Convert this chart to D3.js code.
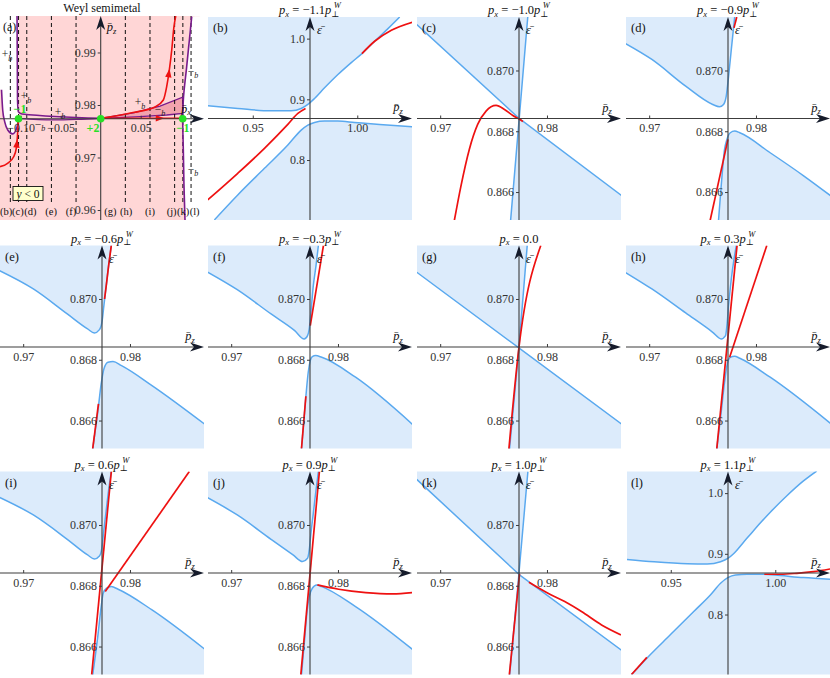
<!DOCTYPE html>
<html><head><meta charset="utf-8">
<script src="https://cdn.jsdelivr.net/npm/d3@7"></script>
<style>body{margin:0;background:#fff}svg{display:block}svg text{font-family:"Liberation Serif","DejaVu Serif","Noto Serif",serif !important}</style>
</head><body><svg id="c" width="830" height="678"></svg>
<script>
// ---------- data ----------
const pz0 = 0.97738, eps0 = 0.86842;
const pPerpW = 0.1027;
const panelIds = ["b","c","d","e","f","g","h","i","j","k","l"];
const pxValues = [-1.1,-1.0,-0.9,-0.6,-0.3,0.0,0.3,0.6,0.9,1.0,1.1];
const wideX = [0.92858, 1.02618], wideY = [0.7012, 1.0356];
const zoomX = [0.96783, 0.98693], zoomY = [0.86508, 0.87176];
const wideXTicks = [0.95, 1.00], wideYTicks = [0.8, 0.9, 1.0];
const zoomXTicks = [0.97, 0.98], zoomYTicks = [0.866, 0.868, 0.870];

const upperB = [[0.928435,0.889315],[0.942812,0.884932],[0.958786,0.881096],[0.968371,0.881096],[0.973163,0.884932],[0.976358,0.891507],[0.979553,0.901370],[0.984345,0.918904],[0.990735,0.940822],[0.997125,0.960548],[1.002236,0.975342],[1.008307,0.995616],[1.014696,1.016438],[1.020288,1.035616]];
const lowerB = [[0.931629,0.701370],[0.942812,0.742466],[0.955591,0.786301],[0.966773,0.824658],[0.973163,0.849315],[0.976358,0.857534],[0.979553,0.861918],[0.984345,0.864110],[0.990735,0.864110],[0.998722,0.861918],[1.010703,0.858630],[1.026677,0.854795]];
const redB1 = [[0.928435,0.734247],[0.942812,0.778082],[0.955591,0.819178],[0.966773,0.858630],[0.971565,0.876712],[0.975240,0.884932]];
const redB2 = [[1.002236,0.975342],[1.008307,0.995616],[1.016294,1.013699],[1.026677,1.027397]];

const upperC = [[0.96781,0.87151],[0.97740,0.86842],[0.97820,0.87176]];
const lowerC = [[0.97659,0.86505],[0.97740,0.86842],[0.98700,0.86588]];
const redC = [[0.971317,0.865047],[0.971944,0.866197],[0.972727,0.867403],[0.973511,0.868225],[0.974295,0.868663],[0.975235,0.868849],[0.976019,0.868718],[0.976803,0.868521],[0.977461,0.868389],[0.977743,0.868323]];

const upperD = [[0.967658,0.870910],[0.970253,0.870362],[0.973418,0.869485],[0.975949,0.868882],[0.976582,0.868805],[0.976962,0.868882],[0.977215,0.869156],[0.977437,0.869814],[0.977690,0.870690],[0.978006,0.871760]];
const lowerD = [[0.976487,0.865047],[0.976741,0.866197],[0.977057,0.867403],[0.977278,0.867732],[0.977595,0.867951],[0.978006,0.868005],[0.978481,0.867951],[0.981329,0.867293],[0.984494,0.866526],[0.987025,0.865868]];
const redD1 = [[0.975696,0.865047],[0.977373,0.867732]];
const redD2 = [[0.977943,0.871403],[0.978196,0.871760]];

const upperE = [[0.967778,0.870932],[0.970952,0.870329],[0.974127,0.869507],[0.976032,0.869014],[0.976667,0.868882],[0.977143,0.868992],[0.977397,0.869288],[0.977556,0.869781],[0.977778,0.870438],[0.978000,0.871096],[0.978254,0.871760]];
const lowerE = [[0.976508,0.865070],[0.976984,0.866274],[0.977302,0.867205],[0.977556,0.867699],[0.977937,0.867918],[0.978413,0.867940],[0.979206,0.867808],[0.982063,0.867151],[0.987079,0.865858]];
const redE1 = [[0.976508,0.865070],[0.977048,0.866548]];
const redE2 = [[0.977619,0.870000],[0.977778,0.870438],[0.978000,0.871096],[0.978254,0.871760]];

const upperF = [[0.967722,0.870899],[0.970570,0.870307],[0.973734,0.869507],[0.975949,0.868959],[0.976835,0.868685],[0.977152,0.868795],[0.977310,0.869014],[0.977468,0.869562],[0.977690,0.870438],[0.977943,0.871096],[0.978165,0.871760]];
const lowerF = [[0.976582,0.865070],[0.976994,0.866800],[0.977215,0.867589],[0.977405,0.867973],[0.977595,0.868104],[0.977911,0.868137],[0.978481,0.868082],[0.981646,0.867425],[0.987025,0.865858]];
const redF1 = [[0.976582,0.865070],[0.976994,0.866800]];
const redF2 = [[0.977405,0.869123],[0.978639,0.871760]];

const upperG = [[0.96781,0.87088],[0.97737,0.86839],[0.97815,0.87176]];
const lowerG = [[0.97649,0.86505],[0.97737,0.86839],[0.98700,0.86588]];
const redG = [[0.97643,0.86505],[0.97737,0.86839],[0.97942,0.87176]];

const upperH = [[0.967658,0.870899],[0.970253,0.870329],[0.973418,0.869540],[0.975949,0.868904],[0.976741,0.868685],[0.977152,0.868795],[0.977278,0.869123],[0.977437,0.869781],[0.977690,0.870658],[0.977943,0.871315],[0.978165,0.871760]];
const lowerH = [[0.976329,0.865070],[0.976741,0.866274],[0.977057,0.867260],[0.977278,0.867808],[0.977595,0.868082],[0.978006,0.868115],[0.978481,0.868049],[0.981329,0.867425],[0.987025,0.865890]];
const redH1 = [[0.976329,0.865070],[0.978228,0.871760]];
const redH2 = [[0.977532,0.868082],[0.981013,0.871760]];

const upperI = [[0.967778,0.870910],[0.970952,0.870329],[0.974127,0.869529],[0.976032,0.869014],[0.976667,0.868882],[0.977143,0.868981],[0.977365,0.869233],[0.977556,0.869836],[0.977778,0.870493],[0.978000,0.871151],[0.978254,0.871760]];
const lowerI = [[0.976508,0.865070],[0.976984,0.866329],[0.977302,0.867315],[0.977492,0.867753],[0.977778,0.867918],[0.978254,0.867973],[0.978889,0.867885],[0.982063,0.867205],[0.987079,0.865890]];
const redI1 = [[0.976413,0.865070],[0.978254,0.871760]];
const redI2 = [[0.977683,0.867808],[0.985556,0.871760]];

const upperJ = [[0.967722,0.870910],[0.970570,0.870329],[0.973734,0.869529],[0.975791,0.869014],[0.976677,0.868795],[0.977152,0.868904],[0.977310,0.869178],[0.977468,0.869726],[0.977690,0.870384],[0.977943,0.871151],[0.978165,0.871760]];
const lowerJ = [[0.976582,0.865070],[0.976899,0.866329],[0.977120,0.867205],[0.977310,0.867644],[0.977595,0.867918],[0.978006,0.868027],[0.978481,0.867973],[0.981646,0.867315],[0.987025,0.865890]];
const redJ1 = [[0.976519,0.865070],[0.978259,0.871760]];
const redJ2 = [[0.978070,0.868027],[0.980063,0.867885],[0.982595,0.867775],[0.985127,0.867732],[0.987025,0.867775]];

const upperK = [[0.967806,0.871501],[0.977367,0.868378],[0.978213,0.871760]];
const lowerK = [[0.97650,0.86505],[0.977367,0.868378],[0.98700,0.86587]];
const redK1 = [[0.97647,0.86505],[0.977429,0.868389]];
const redK2 = [[0.978307,0.868115],[0.980094,0.867753],[0.981661,0.867479],[0.983229,0.867151],[0.985110,0.866712],[0.986928,0.866384]];

const upperL = [[0.929048,0.890761],[0.942063,0.886957],[0.957937,0.883696],[0.967460,0.883152],[0.973810,0.886957],[0.977302,0.892391],[0.980159,0.900543],[0.984921,0.919565],[0.989683,0.938587],[0.997619,0.968478],[1.005556,0.995652],[1.013492,1.020109],[1.019841,1.036413]];
const lowerL = [[0.93122,0.7012],[0.938889,0.729348],[0.950000,0.767391],[0.961111,0.805435],[0.969048,0.832609],[0.973810,0.851630],[0.977302,0.860870],[0.980952,0.865217],[0.986508,0.866304],[0.994444,0.866304],[1.002381,0.864130],[1.013492,0.860870],[1.026190,0.858152]];
const redL1 = [[0.93122,0.7012],[0.938571,0.729348]];
const redL2 = [[0.994762,0.866304],[1.002381,0.866304],[1.010317,0.867935],[1.018254,0.870652],[1.026190,0.875000]];

// panel (a): (p_x, p_z)
const aPxDomain = [-0.1259, 0.1279], aPzDomain = [0.9581, 0.99695];
const aXTicks = [-0.10, -0.05, 0.05], aYTicks = [0.96, 0.97, 0.98, 0.99];
const aPathA = [[-0.1259,0.9829],[-0.1240,0.9829],[-0.1225,0.9790],[-0.1200,0.9768],[-0.1160,0.9752],[-0.1100,0.9745],[-0.1050,0.9756],[-0.1028,0.97747]];
const aPathB = [[-0.1046,0.9970],[-0.1040,0.9810],[-0.1030,0.9787],[-0.0984,0.9783],[0,0.97747]];
const aPathC = [[-0.1028,0.97747],[-0.0600,0.97715],[-0.0300,0.97725],[0,0.97747]];
const aWedgeUpper = [[0,0.97747],[0.0408,0.9785],[0.0741,0.9798],[0.1025,0.9815]];
const aWedgeLower = [[0,0.97747],[0.0491,0.9778],[0.0825,0.9781],[0.1025,0.9784]];
const aRightPurple = [[0.1138,0.99682],[0.1075,0.98730],[0.1033,0.98095],[0.1025,0.97747],[0.1033,0.97143],[0.1041,0.96476],[0.1054,0.95810]];
const aRed1 = [[-0.1259,0.96825],[-0.1160,0.96895],[-0.1090,0.97010],[-0.1055,0.97181],[-0.1040,0.97429],[-0.1028,0.97747]];
const aRed2 = [[0,0.97747],[0.1025,0.97747]];
const aRed3 = [[0,0.97747],[0.0404,0.97857],[0.0679,0.97962],[0.0783,0.98095],[0.0825,0.98349],[0.0858,0.98667],[0.0888,0.99048],[0.0916,0.99491],[0.0938,0.99695]];
const aDots = [-0.1028, 0, 0.1025];
const aDotLabels = [["−1",-0.1009,0.97930],["+2",-0.0096,0.97560],["−1",0.1029,0.97560]];
const aBandLabels = [["+",-0.1171,0.98952],["+",-0.0934,0.98152],["−",-0.0759,0.97619],["+",-0.0509,0.97848],["+",0.0491,0.98038],["−",0.0741,0.97905],["−",0.1154,0.98629],["−",0.1154,0.96762]];
const aPanelLabelNudge = [-4.2,-0.7,3.6,-0.3,-5.0,9.6,0.7,0,-3,0.4,3.6];

// ---------- drawing ----------
const svg = d3.select("#c");
const serif = '"Liberation Serif","DejaVu Serif",serif';
const BLUE = "#5aa9ef", FILL = "#dcebfb", RED = "#ee1111", AX = "#3c3c3c", HEAD = "#151b2b";
const PURPLE = "#7a1b8c", PINK = "#ffd6d6", WEDGE = "#f2a3ae", GREEN = "#27e027";
const colLeft = [0, 208, 417, 626], rowTop = [17, 245.5, 471.5], W = 204, H = 203;

const panels = {
  b:{wide:true, upper:upperB, lower:lowerB, red:[redB1,redB2]},
  c:{wide:false, straight:true, upper:upperC, lower:lowerC, red:[redC]},
  d:{wide:false, upper:upperD, lower:lowerD, red:[redD1,redD2]},
  e:{wide:false, upper:upperE, lower:lowerE, red:[redE1,redE2]},
  f:{wide:false, upper:upperF, lower:lowerF, red:[redF1,redF2]},
  g:{wide:false, straight:true, upper:upperG, lower:lowerG, red:[redG]},
  h:{wide:false, upper:upperH, lower:lowerH, red:[redH1,redH2]},
  i:{wide:false, upper:upperI, lower:lowerI, red:[redI1,redI2]},
  j:{wide:false, upper:upperJ, lower:lowerJ, red:[redJ1,redJ2]},
  k:{wide:false, straight:true, upper:upperK, lower:lowerK, red:[redK1,redK2]},
  l:{wide:true, upper:upperL, lower:lowerL, red:[redL1,redL2]}
};

function arrowRight(g,x,y){ g.append("path").attr("d",`M${x},${y}L${x-14},${y-4.5}L${x-10},${y}L${x-14},${y+4.5}Z`).attr("fill",HEAD); }
function arrowUp(g,x,y){ g.append("path").attr("d",`M${x},${y}L${x-4.5},${y+14}L${x},${y+10}L${x+4.5},${y+14}Z`).attr("fill",HEAD); }
function barLabel(g,x,y,base,sub,anchor){
  const t = g.append("text").attr("x",x).attr("y",y).attr("font-size",12.5).attr("fill","#111").attr("text-anchor",anchor||"middle");
  t.append("tspan").attr("font-style","italic").text(base+"\u0304");
  if(sub) t.append("tspan").attr("font-size",8.5).attr("font-style","italic").attr("dy",2.5).text(sub);
  return t;
}
function styleAxis(sel){
  sel.select(".domain").remove();
  sel.selectAll("line").attr("stroke",AX);
  sel.selectAll("text").attr("font-size",12).attr("fill","#333");
}
const f1 = d3.format(".1f");

panelIds.forEach((id,i)=>{
  const P = panels[id], pos = i+1, r = Math.floor(pos/4), c = pos%4;
  const x0 = colLeft[c], y0 = rowTop[r];
  const x = d3.scaleLinear().domain(P.wide?wideX:zoomX).range([x0,x0+W]);
  const y = d3.scaleLinear().domain(P.wide?wideY:zoomY).range([y0+H,y0]);
  const g = svg.append("g");
  svg.append("clipPath").attr("id","clip"+id).append("rect").attr("x",x0).attr("y",y0).attr("width",W).attr("height",H);
  const pg = g.append("g").attr("clip-path",`url(#clip${id})`);
  const cv = P.straight ? d3.curveLinear : d3.curveMonotoneX;
  pg.append("path").datum(P.upper).attr("fill",FILL)
    .attr("d",d3.area().x(d=>x(d[0])).y0(y0-3).y1(d=>y(d[1])).curve(cv));
  pg.append("path").datum(P.lower).attr("fill",FILL)
    .attr("d",d3.area().x(d=>x(d[0])).y0(y0+H+3).y1(d=>y(d[1])).curve(cv));
  [P.upper,P.lower].forEach(a=>pg.append("path").datum(a).attr("fill","none").attr("stroke",BLUE).attr("stroke-width",1.5)
    .attr("d",d3.line().x(d=>x(d[0])).y(d=>y(d[1])).curve(cv)));
  P.red.forEach(a=>pg.append("path").datum(a).attr("fill","none").attr("stroke",RED).attr("stroke-width",1.7)
    .attr("d",d3.line().x(d=>x(d[0])).y(d=>y(d[1])).curve(d3.curveMonotoneX)));

  const xA = x(pz0), yA = y(eps0);
  const xt = g.append("g").attr("transform",`translate(0,${yA})`)
    .call(d3.axisBottom(x).tickValues(P.wide?wideXTicks:zoomXTicks).tickSize(-3).tickPadding(5).tickFormat(d3.format(".2f")));
  styleAxis(xt);
  const yt = g.append("g").attr("transform",`translate(${xA},0)`)
    .call(d3.axisLeft(y).tickValues(P.wide?wideYTicks:zoomYTicks).tickSize(3).tickPadding(2).tickFormat(d3.format(P.wide?".1f":".3f")));
  styleAxis(yt);
  g.append("line").attr("x1",x0).attr("x2",x0+W-8).attr("y1",yA).attr("y2",yA).attr("stroke",AX).attr("stroke-width",1.1);
  g.append("line").attr("x1",xA).attr("x2",xA).attr("y1",y0+H).attr("y2",y0+8).attr("stroke",AX).attr("stroke-width",1.1);
  arrowRight(g,x0+W,yA); arrowUp(g,xA,y0);
  barLabel(g,xA+7,y0+17,"ε",null,"start");
  barLabel(g,x0+W-14,yA-7,"p","z");
  g.append("text").attr("x",x0+5).attr("y",y0+15).attr("font-size",12.5).attr("fill","#111").text(`(${id})`);
  const v = pxValues[i];
  const t = g.append("text").attr("x",xA).attr("y",y0-3).attr("text-anchor","middle").attr("font-size",12.5).attr("fill","#111");
  t.append("tspan").attr("font-style","italic").text("p");
  t.append("tspan").attr("font-size",8.5).attr("font-style","italic").attr("dy",2.5).text("x");
  if(v===0){ t.append("tspan").attr("dy",-2.5).text(" = 0.0"); }
  else {
    t.append("tspan").attr("dy",-2.5).text(" = "+f1(v));
    t.append("tspan").attr("font-style","italic").text("p");
    t.append("tspan").attr("font-size",8.5).attr("dy",2.5).text("⊥");
    t.append("tspan").attr("font-size",8.5).attr("font-style","italic").attr("dx",-5.5).attr("dy",-8.5).text("W");
  }
});

// ---------- panel (a) ----------
(function(){
  const xa = d3.scaleLinear().domain(aPxDomain).range([0,203]);
  const ya = d3.scaleLinear().domain(aPzDomain).range([220,16]);
  const g = svg.append("g");
  svg.append("clipPath").attr("id","clipa").append("rect").attr("x",0).attr("y",16).attr("width",203).attr("height",204);
  const pg = g.append("g").attr("clip-path","url(#clipa)");
  pg.append("rect").attr("x",xa(aPxDomain[0])).attr("y",ya(aPzDomain[1])).attr("width",xa(aPxDomain[1])-xa(aPxDomain[0])).attr("height",ya(aPzDomain[0])-ya(aPzDomain[1])).attr("fill",PINK);
  const lineMX = d3.line().x(d=>xa(d[0])).y(d=>ya(d[1])).curve(d3.curveMonotoneX);
  const lineMY = d3.line().x(d=>xa(d[0])).y(d=>ya(d[1])).curve(d3.curveMonotoneY);
  const lineL = d3.line().x(d=>xa(d[0])).y(d=>ya(d[1]));
  pg.append("path").datum(aPathA).attr("fill","#fff")
    .attr("d",d3.area().x(d=>xa(d[0])).y0(10).y1(d=>ya(d[1])).curve(d3.curveMonotoneX));
  const rightPoly = [[aPxDomain[1],aPzDomain[1]]].concat(aRightPurple,[[aPxDomain[1],aPzDomain[0]]]);
  pg.append("path").attr("fill","#fff").attr("d",lineMY(rightPoly)+"Z");
  const wedge = aWedgeUpper.concat(aWedgeLower.slice().reverse());
  pg.append("path").attr("d",lineL(wedge)+"Z").attr("fill",WEDGE).attr("stroke",PURPLE).attr("stroke-width",1.3);
  pxValues.forEach(v=>{ if(v!==0) pg.append("line").attr("x1",xa(v*pPerpW)).attr("x2",xa(v*pPerpW)).attr("y1",16).attr("y2",204)
    .attr("stroke","#111").attr("stroke-width",1).attr("stroke-dasharray","4,3"); });
  pg.append("path").attr("d",lineMX(aPathA.slice(1))).attr("fill","none").attr("stroke",PURPLE).attr("stroke-width",1.6);
  pg.append("path").attr("d",lineMX(aPathB)).attr("fill","none").attr("stroke",PURPLE).attr("stroke-width",1.6);
  pg.append("path").attr("d",lineMX(aPathC)).attr("fill","none").attr("stroke",PURPLE).attr("stroke-width",1.3);
  pg.append("path").attr("d",lineMY(aRightPurple)).attr("fill","none").attr("stroke",PURPLE).attr("stroke-width",1.6);
  function arrowOn(node,t){
    const L = node.getTotalLength(), p = node.getPointAtLength(L*t), q = node.getPointAtLength(Math.min(L,L*t+1));
    const ang = Math.atan2(q.y-p.y,q.x-p.x)*180/Math.PI;
    pg.append("path").attr("d","M4.5,0L-4,-3.2L-4,3.2Z").attr("fill",RED).attr("transform",`translate(${p.x},${p.y})rotate(${ang})`);
  }
  [[aRed1,0.55],[aRed2,0.72],[aRed3,0.62]].forEach(([a,t])=>{
    const p = pg.append("path").attr("d",lineMX(a)).attr("fill","none").attr("stroke",RED).attr("stroke-width",1.6);
    arrowOn(p.node(),t);
  });
  const xA = xa(0), yA = ya(pz0);
  const xt = g.append("g").attr("transform",`translate(0,${yA})`).call(d3.axisBottom(xa).tickValues(aXTicks).tickSize(-3).tickPadding(5).tickFormat(d3.format(".2f")));
  styleAxis(xt);
  const yt = g.append("g").attr("transform",`translate(${xA},0)`).call(d3.axisLeft(ya).tickValues(aYTicks).tickSize(3).tickPadding(2).tickFormat(d3.format(".2f")));
  styleAxis(yt);
  g.append("line").attr("x1",0).attr("x2",196).attr("y1",yA).attr("y2",yA).attr("stroke",AX).attr("stroke-width",1.1);
  g.append("line").attr("x1",xA).attr("x2",xA).attr("y1",220).attr("y2",24).attr("stroke",AX).attr("stroke-width",1.1);
  arrowRight(g,204,yA); arrowUp(g,xA,16);
  barLabel(g,xA+6,31,"p","z","start");
  barLabel(g,186,yA-6,"p","x");
  aDots.forEach(px=>g.append("circle").attr("cx",xa(px)).attr("cy",yA).attr("r",3.8).attr("fill",GREEN));
  aDotLabels.forEach(([s,px,pz])=>g.append("text").attr("x",xa(px)).attr("y",ya(pz)).attr("dy","0.35em").attr("text-anchor","middle")
    .attr("font-size",12).attr("font-weight","bold").attr("fill",GREEN).text(s));
  aBandLabels.forEach(([s,px,pz])=>{
    const t = g.append("text").attr("x",xa(px)).attr("y",ya(pz)).attr("dy","0.3em").attr("text-anchor","middle").attr("font-size",11.5).attr("fill","#222");
    t.append("tspan").text(s);
    t.append("tspan").attr("font-size",8).attr("font-style","italic").attr("dy",3).text("b");
  });
  const bx = xa(-0.0909), by = ya(0.96314);
  g.append("rect").attr("x",bx-15).attr("y",by-7).attr("width",30).attr("height",14).attr("fill","#ffffcc").attr("stroke","#111").attr("stroke-width",0.9);
  const bt = g.append("text").attr("x",bx).attr("y",by).attr("dy","0.35em").attr("text-anchor","middle").attr("font-size",11.5).attr("fill","#111");
  bt.append("tspan").attr("font-style","italic").text("y");
  bt.append("tspan").text(" < 0");
  panelIds.forEach((id,i)=>g.append("text").attr("x",xa(pxValues[i]*pPerpW)+aPanelLabelNudge[i]).attr("y",215).attr("text-anchor","middle")
    .attr("font-size",10.5).attr("fill","#111").text(`(${id})`));
  g.append("text").attr("x",3).attr("y",31).attr("font-size",12).attr("fill","#111").text("(a)");
  g.append("text").attr("x",102).attr("y",12).attr("text-anchor","middle").attr("font-size",12).attr("fill","#111").text("Weyl semimetal");
})();
</script></body></html>
